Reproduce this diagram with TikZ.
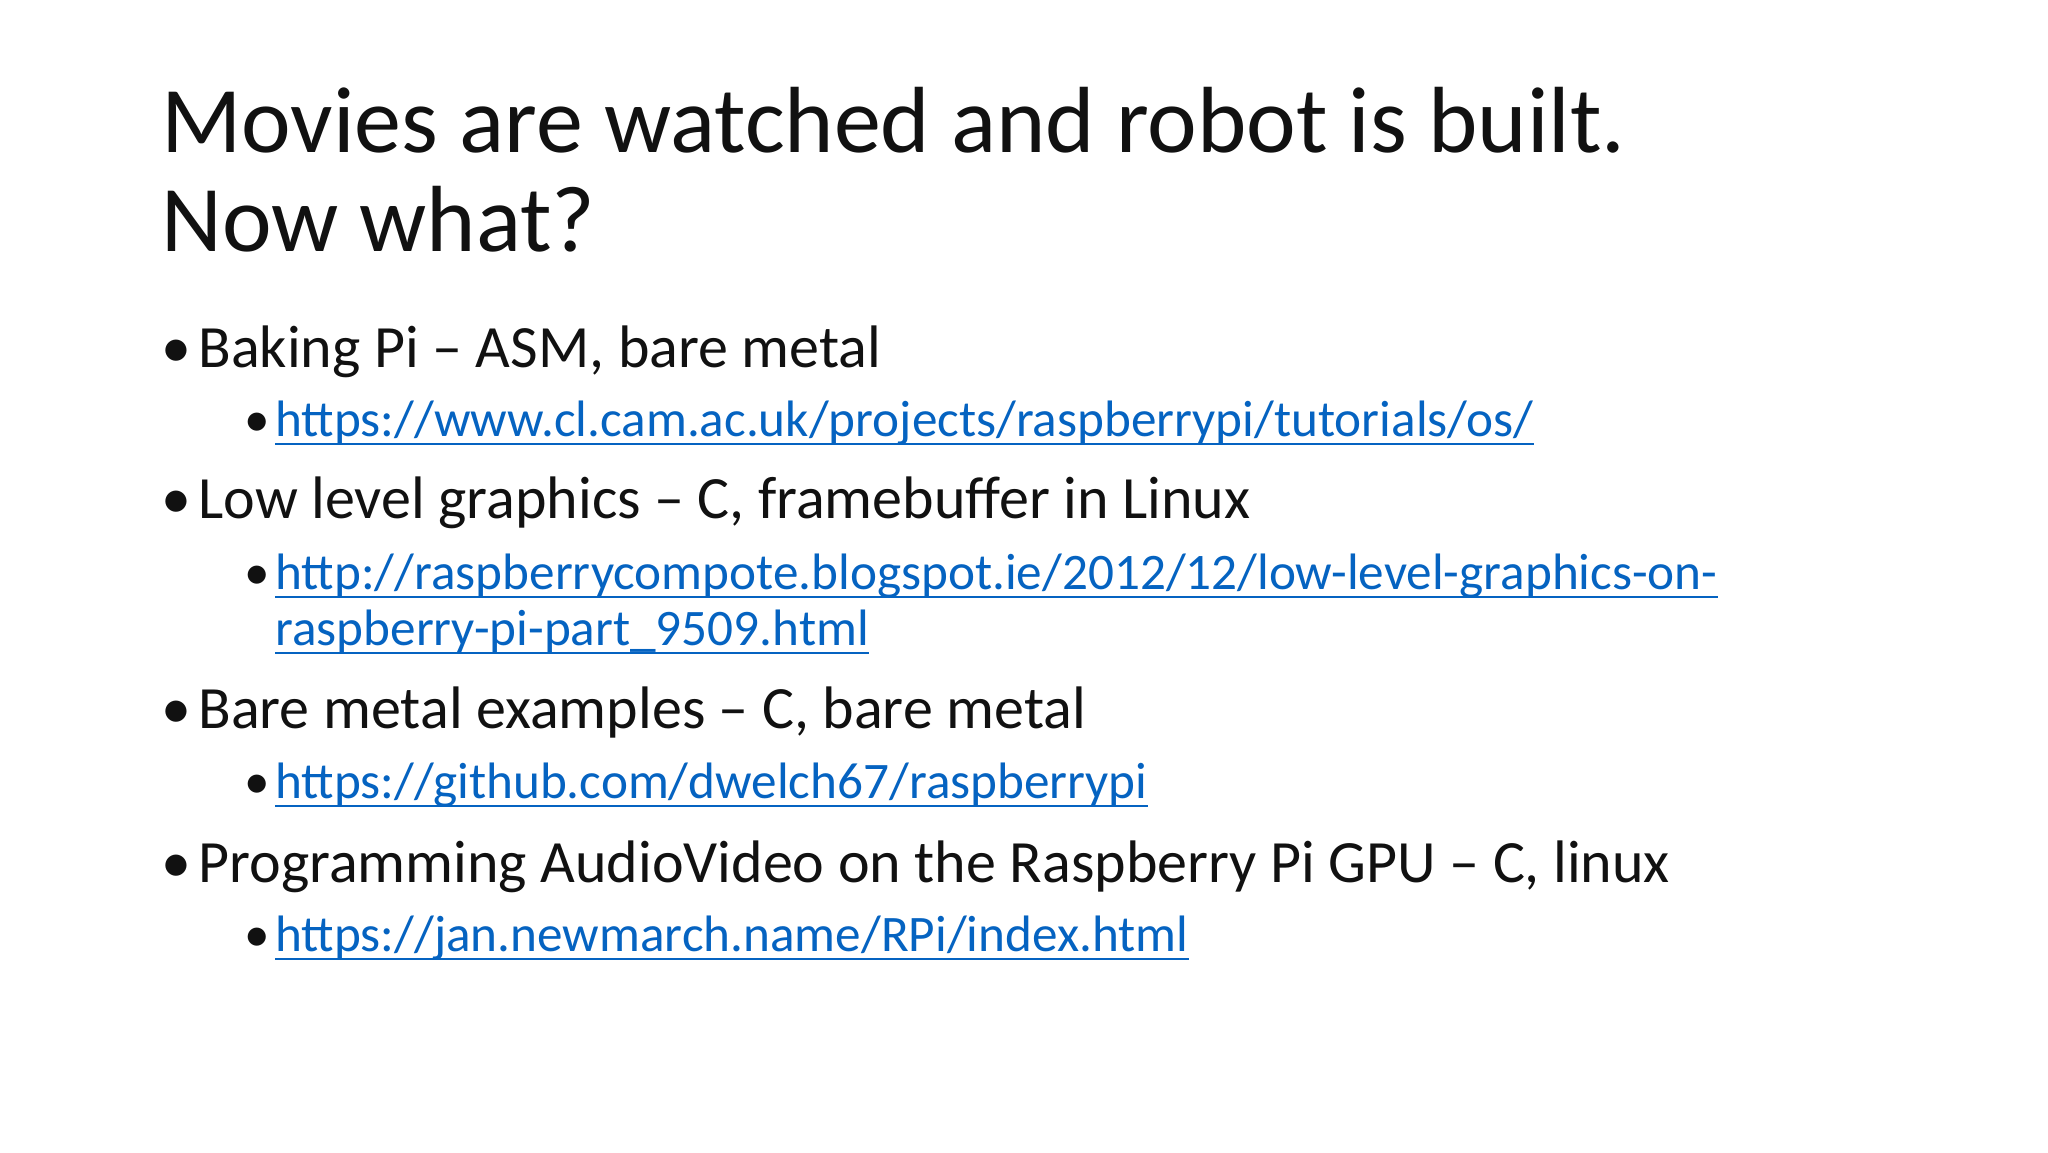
\documentclass[tikz,border=0pt]{standalone}
\usepackage{fontspec}
\setmainfont{Carlito}
\definecolor{link}{HTML}{0563C1}
\definecolor{txt}{HTML}{111111}
\begin{document}
\begin{tikzpicture}[x=0.5pt,y=-0.5pt,
  every node/.style={inner sep=0pt,anchor=base west,text=txt},
  ttl/.style={font=\fontsize{47}{56}\selectfont},
  lone/.style={font=\fontsize{30}{36}\selectfont},
  ltwo/.style={font=\fontsize{25.6}{30}\selectfont},
  lnk/.style={ltwo,text=link},
  ul/.style={draw=link,line width=1.2pt}]
\useasboundingbox (0,0) rectangle (2048,1152);
\fill[white] (0,0) rectangle (2048,1152);
\node[ttl] (t1) at (161,152) {Movies are watched and robot is built.};
\node[ttl] (t2) at (161,251) {Now what?};
\foreach \y/\n/\t in {367/a/{Baking Pi – ASM, bare metal},518/b/{Low level graphics – C, framebuffer in Linux},728/c/{Bare metal examples – C, bare metal},882/d/{Programming AudioVideo on the Raspberry Pi GPU – C, linux}}{
  \node[lone] (b\n) at (161,\y) {•};
  \node[lone] (t\n) at (198,\y) {\t};
}
\foreach \y/\n/\t in {436/a/{https://www.cl.cam.ac.uk/projects/raspberrypi/tutorials/os/},589/b/{http://raspberrycompote.blogspot.ie/2012/12/low-level-graphics-on-},645/e/{raspberry-pi-part\_9509.html},798/c/{https://github.com/dwelch67/raspberrypi},951/d/{https://jan.newmarch.name/RPi/index.html}}{
  \node[lnk] (l\n) at (275,\y) {\t};
  \draw[ul] ([yshift=-4pt]l\n.base west) -- ([yshift=-4pt]l\n.base east);
}
\foreach \y/\n in {436/a,589/b,798/c,951/d}{
  \node[ltwo] (s\n) at (244,\y) {•};
}
\end{tikzpicture}
\end{document}
